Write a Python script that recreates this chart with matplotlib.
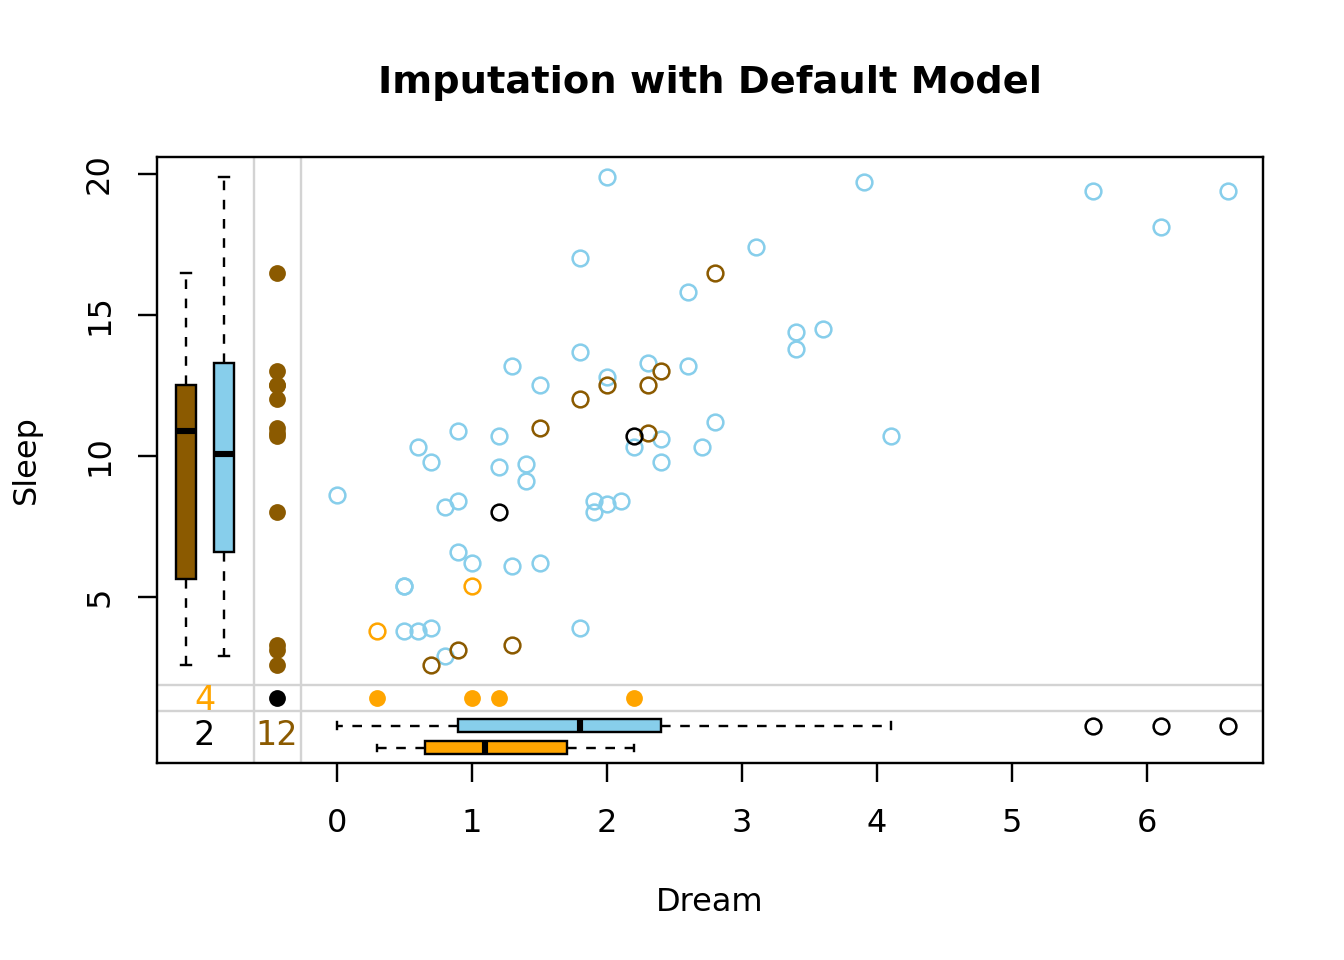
import math
import numpy as np
import matplotlib
matplotlib.use("Agg")
import matplotlib.pyplot as plt

# complete cases (Dream, Sleep)
obs_dream = [2.0, 3.9, 5.6, 6.6, 6.1, 3.1, 1.8, 2.6, 3.4, 3.6, 3.4, 1.8, 1.3, 2.3, 2.6, 2.0,
             1.5, 2.8, 0.9, 1.2, 2.4, 4.1, 0.6, 2.2, 2.7, 0.7, 2.4, 1.2, 1.4, 1.4, 0.0, 0.9,
             0.8, 1.9, 2.0, 2.1, 1.9, 0.9, 1.0, 1.3, 1.5, 0.5, 0.5, 0.5, 0.6, 0.7, 1.8, 0.8]
obs_sleep = [19.9, 19.7, 19.4, 19.4, 18.1, 17.4, 17.0, 15.8, 14.4, 14.5, 13.8, 13.7, 13.2, 13.3, 13.2, 12.8,
             12.5, 11.2, 10.9, 10.7, 10.6, 10.7, 10.3, 10.3, 10.3, 9.8, 9.8, 9.6, 9.7, 9.1, 8.6, 8.4,
             8.2, 8.4, 8.3, 8.4, 8.0, 6.6, 6.2, 6.1, 6.2, 5.4, 5.4, 3.8, 3.8, 3.9, 3.9, 2.9]

# Dream imputed (Sleep observed)
impx_dream = [2.8, 2.4, 2.0, 2.3, 1.8, 1.5, 2.3, 1.3, 0.9, 0.7]
impx_sleep = [16.5, 13.0, 12.5, 12.5, 12.0, 11.0, 10.8, 3.3, 3.1, 2.6]

# Sleep imputed (Dream observed)
impy_dream = [0.3, 1.0]
impy_sleep = [3.8, 5.4]

# both imputed
both_dream = [1.2, 2.2]
both_sleep = [8.0, 10.7]

n_miss_sleep = 4
n_miss_dream = 12
n_miss_both = 2

skyblue = "#87CEEB"
orange = "#FFA500"
brown = "#8B5A00"
grey = "#D3D3D3"

# layout of the margins (data units)
x_box_brown, x_box_blue = -1.12, -0.837
x_vline1, x_dots, x_vline2 = -0.615, -0.444, -0.267
y_hline1, y_dots, y_hline2 = 1.88, 1.42, 0.96
y_box_blue, y_box_orange = 0.44, -0.355
x_count = -0.98
y_count = 0.08


def fivenum(v):
    v = np.sort(np.asarray(v, dtype=float))
    n = len(v)
    n4 = math.floor((n + 3) / 2) / 2
    d = [1, n4, (n + 1) / 2, n + 1 - n4, n]
    return [0.5 * (v[math.floor(k) - 1] + v[math.ceil(k) - 1]) for k in d]


def box_stats(v):
    v = np.asarray(v, dtype=float)
    lo, h1, med, h3, hi = fivenum(v)
    iqr = h3 - h1
    inside = v[(v >= h1 - 1.5 * iqr) & (v <= h3 + 1.5 * iqr)]
    return dict(med=med, q1=h1, q3=h3, whislo=inside.min(), whishi=inside.max(),
                fliers=v[(v < inside.min()) | (v > inside.max())])


fig = plt.figure(figsize=(7, 5), dpi=192)
ax = fig.add_axes([0.1168, 0.2052, 0.823, 0.6313])
ax.set_xlim(-1.333, 6.859)
ax.set_ylim(-0.89, 20.6)

for x in (x_vline1, x_vline2):
    ax.axvline(x, color=grey, lw=0.9, zorder=1)
for y in (y_hline1, y_hline2):
    ax.axhline(y, color=grey, lw=0.9, zorder=1)

circ = dict(ls="none", marker="o", ms=5.9, mfc="none", mew=0.95, zorder=3)
dot = dict(ls="none", marker="o", ms=6.3, mew=0, zorder=3)

ax.plot(obs_dream, obs_sleep, mec=skyblue, **circ)
ax.plot(impx_dream, impx_sleep, mec=brown, **circ)
ax.plot(impy_dream, impy_sleep, mec=orange, **circ)
ax.plot(both_dream, both_sleep, mec="black", **circ)

# margin points
sleep_miss_dream = impx_sleep + both_sleep
dream_miss_sleep = impy_dream + both_dream
ax.plot([x_dots] * len(sleep_miss_dream), sleep_miss_dream, color=brown, **dot)
ax.plot(dream_miss_sleep, [y_dots] * len(dream_miss_sleep), color=orange, **dot)
ax.plot([x_dots], [y_dots], color="black", **dot)

# boxplots
common = dict(patch_artist=True, showfliers=True, zorder=3,
              medianprops=dict(color="black", lw=2.3, solid_capstyle="butt"),
              whiskerprops=dict(color="black", lw=0.9, ls=(0, (4, 4))),
              capprops=dict(color="black", lw=0.9),
              flierprops=dict(marker="o", ms=5.9, mfc="none", mec="black", mew=0.95))

sleep_obs_dream = obs_sleep + impy_sleep
b = ax.bxp([box_stats(sleep_miss_dream), box_stats(sleep_obs_dream)],
           positions=[x_box_brown, x_box_blue], widths=0.148, capwidths=0.074,
           vert=True, manage_ticks=False,
           boxprops=dict(edgecolor="black", lw=0.9), **common)
for patch, c in zip(b["boxes"], [brown, skyblue]):
    patch.set_facecolor(c)

dream_obs_sleep = obs_dream + impx_dream
b = ax.bxp([box_stats(dream_obs_sleep), box_stats(dream_miss_sleep)],
           positions=[y_box_blue, y_box_orange], widths=0.46, capwidths=0.23,
           vert=False, manage_ticks=False,
           boxprops=dict(edgecolor="black", lw=0.9), **common)
for patch, c in zip(b["boxes"], [skyblue, orange]):
    patch.set_facecolor(c)

# missing counts
ax.text(x_count, y_dots - 0.08, str(n_miss_sleep), color=orange, fontsize=12.5, ha="center", va="center")
ax.text(x_count, y_count, str(n_miss_both), color="black", fontsize=12.5, ha="center", va="center")
ax.text(x_dots, y_count, str(n_miss_dream), color=brown, fontsize=12.5, ha="center", va="center")

ax.set_xticks(range(0, 7))
ax.set_yticks([5, 10, 15, 20])
ax.tick_params(direction="out", length=7.2, width=0.9, labelsize=12, colors="black")
ax.tick_params(axis="x", pad=9.5)
ax.tick_params(axis="y", pad=8.5)
plt.setp(ax.get_yticklabels(), rotation=90, va="center")
for s in ax.spines.values():
    s.set_linewidth(0.9)

ax.set_xlabel("Dream", fontsize=12, labelpad=18)
ax.set_ylabel("Sleep", fontsize=12, labelpad=16)
ax.set_title("Imputation with Default Model", fontsize=14.4, fontweight="bold", pad=24)

fig.savefig("out.png", dpi=192)
